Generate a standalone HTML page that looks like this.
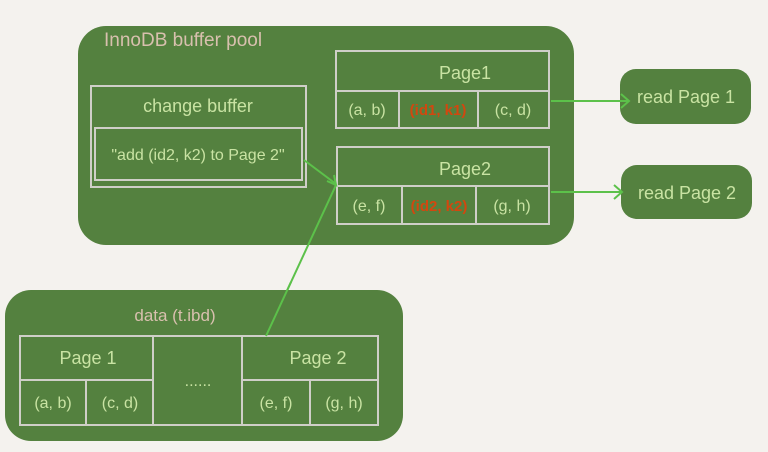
<!DOCTYPE html>
<html><head><meta charset="utf-8"><style>
html,body{margin:0;padding:0;background:#f4f2ee;}
svg{display:block}
text{font-family:"Liberation Sans",sans-serif;}
.t{fill:#c9e3a3;font-size:16px;text-anchor:middle;}
.h{fill:#c9e3a3;font-size:18px;text-anchor:middle;}
.r{fill:#d2470f;font-size:15px;text-anchor:middle;font-weight:bold;}
.b{fill:#d8c0ae;font-size:19px;}
.ln{stroke:#cfcfc8;stroke-width:2;fill:none;}
.ar{stroke:#5cc14a;stroke-width:2;fill:none;}
</style></head><body>
<svg width="768" height="452" viewBox="0 0 768 452">
<rect width="768" height="452" fill="#f4f2ee"/>
<rect x="78" y="26" width="496" height="219" rx="28" fill="#54813f"/>
<text class="b" x="104" y="46">InnoDB buffer pool</text>
<rect x="91" y="86" width="215" height="101" class="ln"/>
<rect x="95" y="128" width="207" height="52" class="ln"/>
<text class="h" x="198" y="112">change buffer</text>
<text class="t" x="198" y="160">"add (id2, k2) to Page 2"</text>
<rect x="336" y="51" width="213" height="77" class="ln"/>
<line x1="336" y1="91" x2="549" y2="91" class="ln"/>
<line x1="399" y1="91" x2="399" y2="128" class="ln"/>
<line x1="478" y1="91" x2="478" y2="128" class="ln"/>
<text class="h" x="465" y="79">Page1</text>
<text class="t" x="367" y="115">(a, b)</text>
<text class="r" x="438" y="115">(id1, k1)</text>
<text class="t" x="513" y="115">(c, d)</text>
<rect x="337" y="147" width="212" height="77" class="ln"/>
<line x1="337" y1="186" x2="549" y2="186" class="ln"/>
<line x1="402" y1="186" x2="402" y2="224" class="ln"/>
<line x1="476" y1="186" x2="476" y2="224" class="ln"/>
<text class="h" x="465" y="175">Page2</text>
<text class="t" x="369" y="211">(e, f)</text>
<text class="r" x="439" y="211">(id2, k2)</text>
<text class="t" x="512" y="211">(g, h)</text>
<rect x="620" y="69" width="131" height="55" rx="16" fill="#54813f"/>
<text class="h" x="686" y="103">read Page 1</text>
<rect x="621" y="165" width="131" height="54" rx="16" fill="#54813f"/>
<text class="h" x="687" y="199">read Page 2</text>
<line x1="551" y1="101" x2="629" y2="101" class="ar"/>
<polyline points="621,94 629,101 621,108" class="ar"/>
<line x1="551" y1="192" x2="622" y2="192" class="ar"/>
<polyline points="614,185 622,192 614,199" class="ar"/>
<line x1="304" y1="160" x2="336" y2="184" class="ar"/>
<line x1="266" y1="336" x2="336" y2="185" class="ar"/>
<polyline points="327,181 336,185 334,175" class="ar"/>
<rect x="5" y="290" width="398" height="151" rx="26" fill="#54813f"/>
<text class="b" x="175" y="321" style="font-size:17px" text-anchor="middle">data (t.ibd)</text>
<rect x="20" y="336" width="358" height="89" class="ln"/>
<line x1="20" y1="380" x2="153" y2="380" class="ln"/>
<line x1="242" y1="380" x2="378" y2="380" class="ln"/>
<line x1="153" y1="336" x2="153" y2="425" class="ln"/>
<line x1="242" y1="336" x2="242" y2="425" class="ln"/>
<line x1="86" y1="380" x2="86" y2="425" class="ln"/>
<line x1="310" y1="380" x2="310" y2="425" class="ln"/>
<line x1="266" y1="336" x2="291" y2="282" class="ar"/>
<text class="h" x="88" y="364">Page 1</text>
<text class="h" x="318" y="364">Page 2</text>
<text class="t" x="198" y="386">......</text>
<text class="t" x="53" y="408">(a, b)</text>
<text class="t" x="120" y="408">(c, d)</text>
<text class="t" x="276" y="408">(e, f)</text>
<text class="t" x="344" y="408">(g, h)</text>
</svg>
</body></html>
